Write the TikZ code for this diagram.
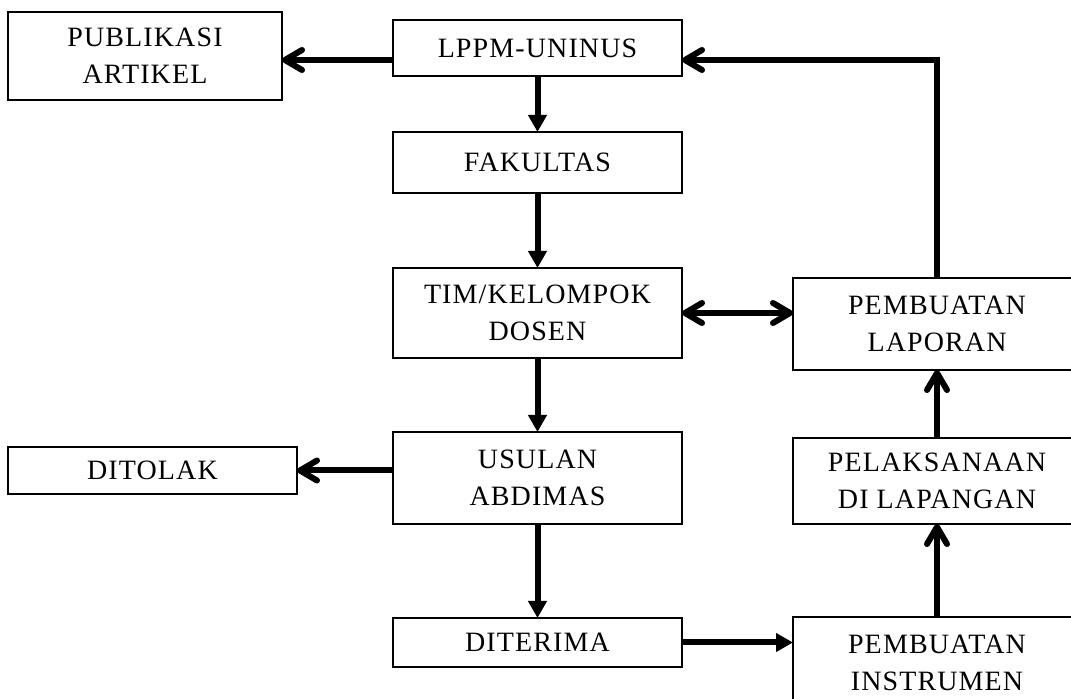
\documentclass[tikz,border=0pt]{standalone}
\usepackage{fontspec}
\setmainfont[LetterSpace=4]{Liberation Serif}
\usetikzlibrary{arrows.meta}
\begin{document}
\begin{tikzpicture}[x=0.5pt,y=-0.5pt,
  box/.style={draw,line width=0.7pt,inner sep=0pt,outer sep=0pt,align=center,
    font=\fontsize{14}{18.5}\selectfont},
  conn/.style={line width=3pt},
  tri/.style={conn,-{Triangle[length=8.5pt,width=9pt]}},
  barbtip/.tip={Straight Barb[length=8.5pt,width=10pt,line cap=round,line join=round]},
  barb/.style={conn,-barbtip},
  dbarb/.style={conn,barbtip-barbtip}]
\clip (0,0) rectangle (1071,699);
\node[box,minimum width=137pt,minimum height=44pt] (pub) at (145,56) {PUBLIKASI\\ARTIKEL};
\node[box,minimum width=144.5pt,minimum height=28pt] (lppm) at (537.5,48) {LPPM-UNINUS};
\node[box,minimum width=144.5pt,minimum height=30.5pt] (fak) at (537.5,162.5) {FAKULTAS};
\node[box,minimum width=144.5pt,minimum height=45pt] (tim) at (537.5,313) {TIM/KELOMPOK\\DOSEN};
\node[box,minimum width=144.5pt,minimum height=46pt] (usul) at (537.5,478) {USULAN\\ABDIMAS};
\node[box,minimum width=144.5pt,minimum height=23.5pt] (tolak) at (152.5,470.5) {DITOLAK};
\node[box,minimum width=144.5pt,minimum height=24.5pt] (terima) at (537.5,642.5) {DITERIMA};
\node[box,minimum width=144pt,minimum height=46pt] (lap) at (937,324) {PEMBUATAN\\LAPORAN};
\node[box,minimum width=144pt,minimum height=43pt] (lak) at (937,481) {PELAKSANAAN\\DI LAPANGAN};
\node[box,minimum width=144pt,minimum height=46pt] (ins) at (937,663) {PEMBUATAN\\INSTRUMEN};
% connectors
\draw[barb] ([yshift=-6pt]lppm.west) -- ([yshift=-6pt]lppm.west -| pub.east);
\draw[tri] (lppm) -- (fak);
\draw[tri] (fak) -- (tim);
\draw[tri] (tim) -- (usul);
\draw[tri] (usul) -- (terima);
\draw[dbarb] (tim.east) -- (tim.east -| lap.west);
\draw[barb] (usul.west |- tolak.east) -- (tolak.east);
\draw[tri] (terima.east) -- (terima.east -| ins.west);
\draw[barb] (ins) -- (lak);
\draw[barb] (lak) -- (lap);
\draw[barb,line join=miter] (lap.north) |- ([yshift=-6pt]lppm.east);
\end{tikzpicture}
\end{document}
